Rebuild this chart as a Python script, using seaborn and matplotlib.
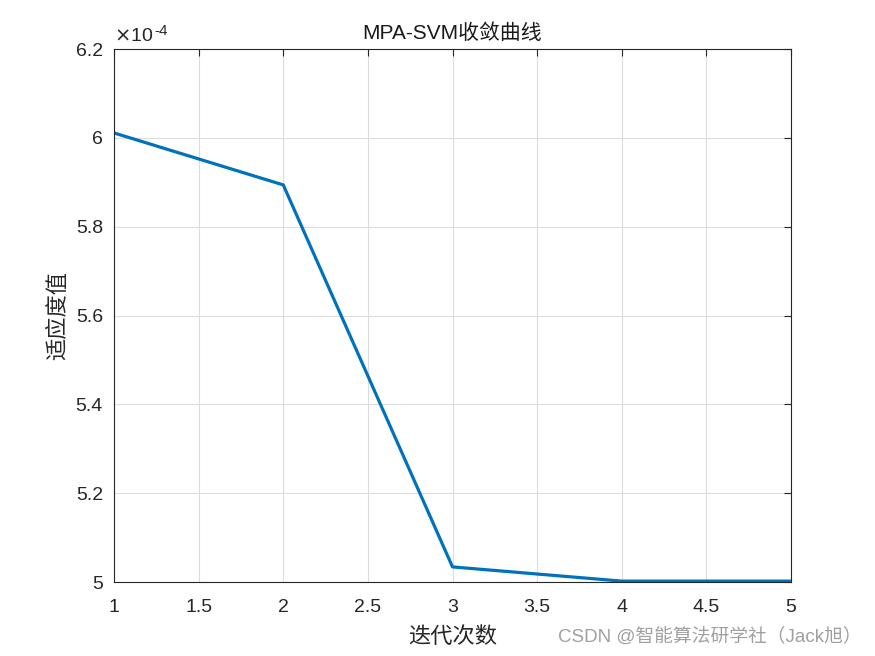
import matplotlib
matplotlib.use("Agg")
import matplotlib.pyplot as plt
import seaborn as sns
import pandas as pd
from matplotlib.ticker import FuncFormatter, MultipleLocator

iterations = [1, 2, 3, 4, 5]
fitness = [6.011e-4, 5.894e-4, 5.034e-4, 5.002e-4, 5.002e-4]
title = "MPA-SVM收敛曲线"
xlabel = "迭代次数"
ylabel = "适应度值"
watermark = "CSDN @智能算法研学社（Jack旭）"

sns.set_theme(style="white")
plt.rcParams['font.family'] = ['Liberation Sans', 'Noto Sans CJK SC', 'DejaVu Sans']
plt.rcParams['axes.unicode_minus'] = False

df = pd.DataFrame({"iter": iterations, "fit": fitness})

fig = plt.figure(figsize=(8.75, 6.56), dpi=100)
ax = fig.add_axes([0.1303, 0.1128, 0.904 - 0.1303, 0.9253 - 0.1128])
sns.lineplot(data=df, x="iter", y="fit", ax=ax, color="#0072BD", linewidth=2.3)

ax.set_xlim(1, 5)
ax.set_ylim(5e-4, 6.2e-4)
ax.xaxis.set_major_locator(MultipleLocator(0.5))
ax.yaxis.set_major_locator(MultipleLocator(0.2e-4))
ax.xaxis.set_major_formatter(FuncFormatter(lambda v, p: f"{v:g}"))
ax.yaxis.set_major_formatter(FuncFormatter(lambda v, p: f"{round(v/1e-4, 4):g}"))

ax.grid(True, color="#dcdcdc", linewidth=0.8)
ax.set_axisbelow(True)
for s in ax.spines.values():
    s.set_color("#262626")
    s.set_linewidth(0.8)
ax.tick_params(axis="both", direction="in", length=5, width=0.8, colors="#262626",
               top=True, right=True, labelsize=14, labelcolor="#262626")
ax.tick_params(axis="x", pad=12)
ax.tick_params(axis="y", pad=8)

ax.set_title(title, fontsize=15, color="#1a1a1a", pad=7,
             family=['Liberation Sans', 'Noto Sans CJK SC'])
ax.set_xlabel(xlabel, fontsize=16, color="#262626", labelpad=7,
              family=['Noto Sans CJK SC'])
ax.set_ylabel(ylabel, fontsize=16, color="#262626", labelpad=5,
              family=['Noto Sans CJK SC'])

base = ax.text(0.0, 1.008, r"$\times$10", transform=ax.transAxes, fontsize=14,
               color="#262626", ha="left", va="bottom")
ax.annotate("-4", xy=(1.0, 1.0), xycoords=base, xytext=(1, -2),
            textcoords="offset points", fontsize=11, color="#262626",
            ha="left", va="center")

fig.text(0.985, 0.015, watermark, fontsize=13.5, color="#a0a0a0", ha="right", va="bottom",
         family=['Liberation Sans', 'Noto Sans CJK SC'])

fig.savefig("out.png", dpi=100, facecolor="white")
